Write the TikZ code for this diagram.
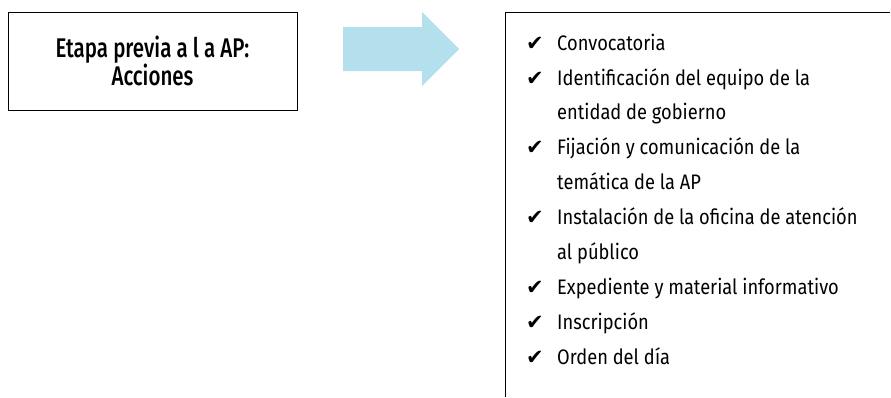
\documentclass[tikz,border=0pt]{standalone}
\usepackage{fontspec}
\setmainfont[FakeStretch=0.87]{Fira Sans}
\newfontfamily\boxfont[FakeStretch=0.76]{Fira Sans Medium}
\newfontfamily\checkfont{DejaVu Sans}
\definecolor{arrowblue}{HTML}{B3E0EC}
\begin{document}
\begin{tikzpicture}[x=1pt,y=-1pt,
  framebox/.style={draw=black, line width=1pt},
  listtext/.style={anchor=base west, inner sep=0pt, align=left,
    font=\fontsize{21}{34.9}\selectfont},
  checkmk/.style={anchor=base west, inner sep=0pt, font=\checkfont\fontsize{21}{22}\selectfont},
]
\useasboundingbox (0,0) rectangle (891,397);
% left box
\node[framebox, minimum width=289pt, minimum height=98pt, inner sep=0pt,
  align=center, font=\boxfont\fontsize{27}{24}\selectfont] (stage) at (152.5,61)
  {Etapa previa a l a AP:\\Acciones};
% arrow
\fill[arrowblue] (343,27) -- (422,27) -- (422,12) -- (459,49) -- (422,86) -- (422,71) -- (343,71) -- cycle;
% right box (open on right and bottom)
\coordinate (rtl) at (505,12);
\coordinate (rtr) at (890,12);
\coordinate (rbl) at (505,397);
\draw[line width=1pt] (rtr) -- (rtl) -- (rbl);
% list
\foreach \y/\name in {50/c1,85/c2,154.8/c3,224.6/c4,294.4/c5,329.3/c6,364.2/c7}{
  \node[checkmk] (\name) at (526,\y) {✔};
}
\node[listtext] (t1) at (557,50) {Convocatoria};
\node[listtext] (t2) at (557,119.9) {Identificación del equipo de la\\entidad de gobierno};
\node[listtext] (t3) at (557,189.7) {Fijación y comunicación de la\\temática de la AP};
\node[listtext] (t4) at (557,259.5) {Instalación de la oficina de atención\\al público};
\node[listtext] (t5) at (557,294.4) {Expediente y material informativo};
\node[listtext] (t6) at (557,329.3) {Inscripción};
\node[listtext] (t7) at (557,364.2) {Orden del día};
\end{tikzpicture}
\end{document}
